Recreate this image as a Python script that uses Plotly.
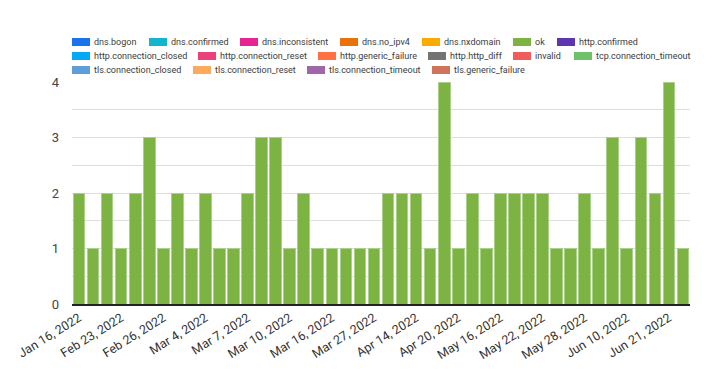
import plotly.graph_objects as go

dates = [
    "2022-01-16", "2022-01-20", "2022-02-02", "2022-02-23", "2022-02-24", "2022-02-25",
    "2022-02-26", "2022-02-28", "2022-03-02", "2022-03-04", "2022-03-05", "2022-03-06",
    "2022-03-07", "2022-03-08", "2022-03-09", "2022-03-10", "2022-03-12", "2022-03-14",
    "2022-03-16", "2022-03-20", "2022-03-24", "2022-03-27", "2022-04-02", "2022-04-08",
    "2022-04-14", "2022-04-16", "2022-04-18", "2022-04-20", "2022-04-28", "2022-05-06",
    "2022-05-16", "2022-05-18", "2022-05-20", "2022-05-22", "2022-05-24", "2022-05-26",
    "2022-05-28", "2022-06-02", "2022-06-06", "2022-06-10", "2022-06-14", "2022-06-17",
    "2022-06-21", "2022-06-24",
]

ok_values = [
    2, 1, 2, 1, 2, 3, 1, 2, 1, 2, 1, 1, 2, 3, 3, 1, 2,
    1, 1, 1, 1, 1, 2, 2, 2, 1, 4, 1, 2, 1, 2, 2,
    2, 2, 1, 1, 2, 1, 3, 1, 3, 2, 4, 1,
]

series_names = [
    "dns.bogon", "dns.confirmed", "dns.inconsistent", "dns.no_ipv4", "dns.nxdomain",
    "ok", "http.confirmed", "http.connection_closed", "http.connection_reset",
    "http.generic_failure", "http.http_diff", "invalid", "tcp.connection_timeout",
    "tls.connection_closed", "tls.connection_reset", "tls.connection_timeout",
    "tls.generic_failure",
]

series_colors = [
    "#1a73e8", "#12b5cb", "#e52592", "#e8710a", "#f9ab00",
    "#7cb342", "#5e35b1", "#03a9f4", "#ec407a",
    "#ff7043", "#737373", "#f05b5b", "#70c16a",
    "#5e9fd8", "#fcaa5e", "#a066aa",
    "#d0735c",
]

tick_labels = [
    "Jan 16, 2022", "Feb 23, 2022", "Feb 26, 2022", "Mar 4, 2022", "Mar 7, 2022",
    "Mar 10, 2022", "Mar 16, 2022", "Mar 27, 2022", "Apr 14, 2022", "Apr 20, 2022",
    "May 16, 2022", "May 22, 2022", "May 28, 2022", "Jun 10, 2022", "Jun 21, 2022",
]

# ---- layout constants (pixels, in page coordinates; page body has an 8px margin) ----
OFF = 8
W, H = 726 - OFF, 371 - OFF
ML, MR, MT, MB = 72 - OFF, 36, 82 - OFF, 67
PW, PH = W - ML - MR, H - MT - MB

# legend swatch left edges (page px) and row centres (page px)
legend_row_y = [42, 56, 70]
legend_row_x = [
    [72, 149, 240, 340, 422, 513, 557],
    [72, 198, 318, 428, 513, 574],
    [72, 193, 307, 432],
]


def px_x(v):
    return (v - OFF - ML) / PW


def px_y(v):
    return (H - MB - (v - OFF)) / PH


fig = go.Figure()
for name, color in zip(series_names, series_colors):
    if name == "ok":
        vals = ok_values
        line = dict(color="#a9d18a", width=1)
    else:
        vals = [0] * len(dates)
        line = dict(width=0)
    fig.add_trace(go.Bar(x=dates, y=vals, name=name, showlegend=False,
                         marker=dict(color=color, line=line)))

shapes = []
annotations = []
i = 0
for ry, xs in zip(legend_row_y, legend_row_x):
    for lx in xs:
        name, color = series_names[i], series_colors[i]
        i += 1
        shapes.append(dict(type="rect", xref="paper", yref="paper",
                           x0=px_x(lx), x1=px_x(lx + 18),
                           y0=px_y(ry + 4), y1=px_y(ry - 4),
                           fillcolor=color, line=dict(width=0)))
        annotations.append(dict(text=name, xref="paper", yref="paper",
                                x=px_x(lx + 20), y=px_y(ry), xanchor="left",
                                yanchor="middle", showarrow=False,
                                font=dict(size=9, color="#3c3c3c")))

fig.update_layout(
    barmode="stack",
    bargap=0.17,
    width=W,
    height=H,
    margin=dict(l=ML, r=MR, t=MT, b=MB),
    paper_bgcolor="white",
    plot_bgcolor="white",
    font=dict(family="Roboto, sans-serif", color="#444"),
    showlegend=False,
    shapes=shapes,
    annotations=annotations,
)

fig.update_xaxes(
    type="category",
    tickmode="array",
    tickvals=dates[::3],
    ticktext=tick_labels,
    tickangle=-32,
    tickfont=dict(size=12.5, color="#333"),
    showgrid=False,
    showline=True,
    linecolor="#222",
    linewidth=2,
    ticks="",
    automargin=False,
)

fig.update_yaxes(
    range=[0, 4],
    dtick=1,
    tickfont=dict(size=13, color="#444"),
    showgrid=True,
    gridcolor="#dedede",
    gridwidth=1,
    minor=dict(dtick=0.5, showgrid=True, gridcolor="#dedede", gridwidth=1),
    zeroline=False,
    showline=False,
    ticks="",
    ticklabelstandoff=12,
    automargin=False,
)

fig.write_html("out.html")
